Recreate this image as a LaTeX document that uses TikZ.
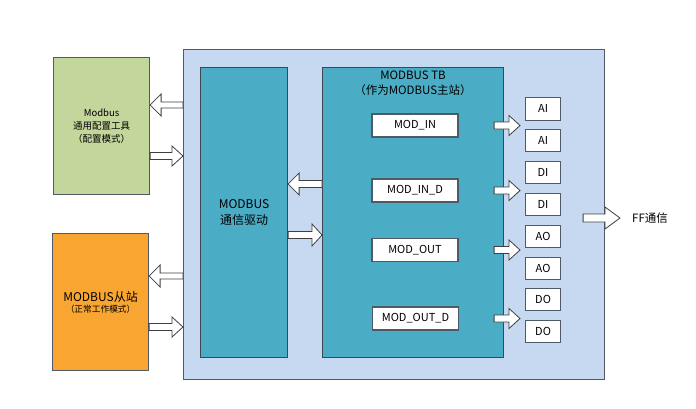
\documentclass[tikz,border=0pt]{standalone}
\usepackage{fontspec}
\setmainfont{Noto Sans CJK SC}
\usetikzlibrary{calc}
\definecolor{outerfill}{HTML}{C6D9F1}
\definecolor{greenfill}{HTML}{C3D69B}
\definecolor{orangefill}{HTML}{F9A531}
\definecolor{tealfill}{HTML}{4BACC6}
\definecolor{bordergray}{HTML}{4F5A66}
\definecolor{arrowgray}{HTML}{3F3F3F}
\tikzset{
  boxbase/.style={draw=bordergray, line width=1.1pt, inner sep=0pt, anchor=north west, align=center},
  outerbox/.style={boxbase, fill=outerfill},
  greenbox/.style={boxbase, fill=greenfill},
  orangebox/.style={boxbase, fill=orangefill},
  tealbox/.style={boxbase, fill=tealfill, draw=bordergray!80!black},
  modbox/.style={boxbase, fill=white, minimum width=86pt, minimum height=23pt, anchor=center, font=\fontsize{11}{13}\selectfont},
  iobox/.style={boxbase, fill=white, minimum width=35pt, minimum height=22.5pt, font=\fontsize{11}{13}\selectfont},
  fat/.style={draw=arrowgray, fill=white, line width=0.8pt, line join=miter},
}
% #1 start, #2 end, #3 head length, #4 half body, #5 half head
\newcommand\fatarrow[5]{%
  \draw[fat] let \p1=(#1), \p2=(#2), \n1={sign(\x2-\x1)} in
    (\x1,\y1+#4) -- ({\x2-\n1*#3},\y1+#4) -- ({\x2-\n1*#3},\y1+#5) -- (\x2,\y1)
    -- ({\x2-\n1*#3},\y1-#5) -- ({\x2-\n1*#3},\y1-#4) -- (\x1,\y1-#4) -- cycle;}
\begin{document}
\begin{tikzpicture}[x=1pt,y=-1pt]
\useasboundingbox (0,0) rectangle (696,408);
\fill[white] (0,0) rectangle (696,408);

\node[outerbox, minimum width=421pt, minimum height=330pt] (outer) at (183,49) {};
\node[greenbox, minimum width=96pt, minimum height=137pt, font=\fontsize{9.5}{13}\selectfont] (green) at (53,57)
  {Modbus\\通用配置工具\\（配置模式）};
\node[orangebox, minimum width=96pt, minimum height=137pt] (orange) at (52,233)
  {{\fontsize{12}{13}\selectfont MODBUS从站}\\[-1pt]{\fontsize{8.7}{13}\selectfont （正常工作模式）}};
\node[tealbox, minimum width=87pt, minimum height=290pt, font=\fontsize{12}{16}\selectfont] (drv) at (200,67)
  {MODBUS\\通信驱动};
\node[tealbox, minimum width=181pt, minimum height=290pt] (tb) at (322,67) {};
\node[anchor=north, align=center, inner sep=0pt, font=\fontsize{11.5}{15}\selectfont] (tbtitle) at ([yshift=-4pt]tb.north)
  {MODBUS TB\\（作为MODBUS主站）};

\node[modbox] (modin) at (415,125.5) {MOD\_IN};
\node[modbox] (modind) at (415,190.5) {MOD\_IN\_D};
\node[modbox] (modout) at (415,250) {MOD\_OUT};
\node[modbox] (modoutd) at (415.5,318.5) {MOD\_OUT\_D};

\node[iobox] (ai1) at (525,97) {AI};
\node[iobox] (ai2) at (525,128.5) {AI};
\node[iobox] (di1) at (525,160.5) {DI};
\node[iobox] (di2) at (525,192.5) {DI};
\node[iobox] (ao1) at (525,224.5) {AO};
\node[iobox] (ao2) at (525,256.5) {AO};
\node[iobox] (do1) at (525,287.5) {DO};
\node[iobox] (do2) at (525,319.5) {DO};

\node[anchor=west, inner sep=0pt, font=\fontsize{11.5}{13}\selectfont] (ff) at (632,218) {FF通信};

% left side arrows
\fatarrow{outer.west |- 0,105}{green.east |- 0,105}{11pt}{3pt}{11pt}
\fatarrow{green.east |- 0,156}{outer.west |- 0,156}{11pt}{3.5pt}{10pt}
\fatarrow{outer.west |- 0,276}{orange.east |- 0,276}{11pt}{3pt}{11pt}
\fatarrow{orange.east |- 0,327}{outer.west |- 0,327}{11pt}{3.5pt}{10pt}
% driver <-> TB
\fatarrow{tb.west |- 0,184}{drv.east |- 0,184}{11pt}{3.5pt}{11pt}
\fatarrow{drv.east |- 0,235}{tb.west |- 0,235}{10pt}{3.5pt}{11pt}
% TB -> io
\coordinate (tbr) at ([xshift=-10pt]tb.east);
\coordinate (iol) at ([xshift=-5pt]ai1.west);
\fatarrow{tbr |- modin}{iol |- modin}{11pt}{3.5pt}{10pt}
\fatarrow{tbr |- modind}{iol |- modind}{11pt}{3.5pt}{10pt}
\fatarrow{tbr |- modout}{iol |- modout}{11pt}{3.5pt}{10pt}
\fatarrow{tbr |- modoutd}{iol |- modoutd}{11pt}{3.5pt}{10pt}
% FF
\coordinate (ffs) at ([xshift=-22pt]outer.east |- ff);
\coordinate (ffe) at ([xshift=-12pt]ff.west);
\fatarrow{ffs}{ffe}{15pt}{4pt}{11pt}
\end{tikzpicture}
\end{document}
